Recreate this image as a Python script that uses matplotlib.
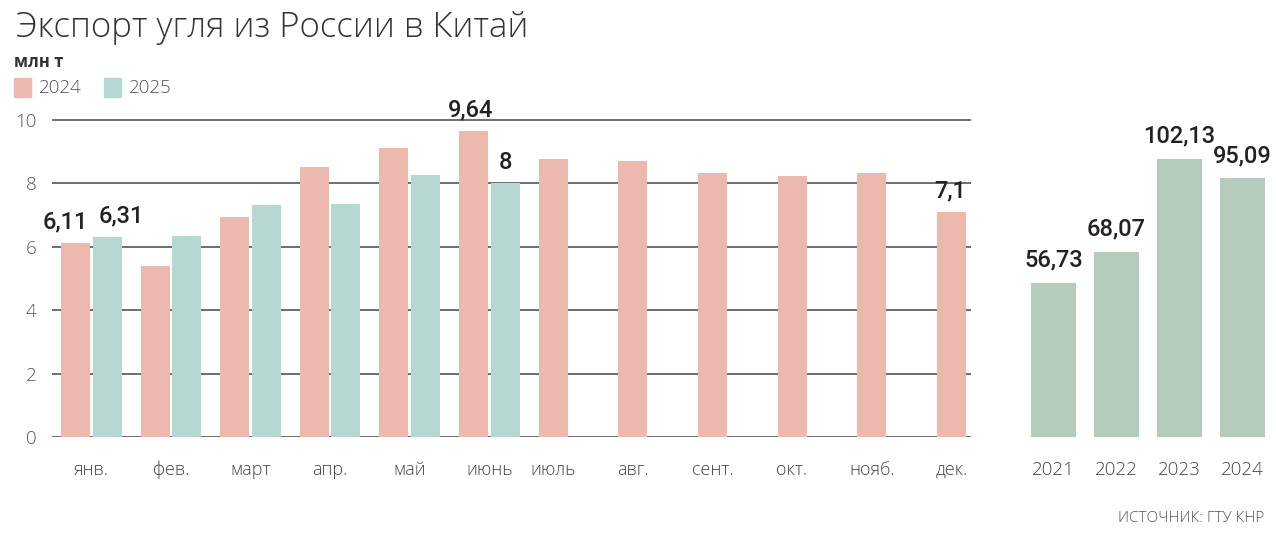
import matplotlib.pyplot as plt
import numpy as np

months = ['янв.', 'фев.', 'март', 'апр.', 'май', 'июнь',
          'июль', 'авг.', 'сент.', 'окт.', 'нояб.', 'дек.']
exp_2024 = [6.11, 5.39, 6.93, 8.50, 9.10, 9.64, 8.76, 8.71, 8.34, 8.24, 8.34, 7.1]
exp_2025 = [6.31, 6.35, 7.33, 7.36, 8.25, 8.0]
years = ['2021', '2022', '2023', '2024']
yearly = [56.73, 68.07, 102.13, 95.09]

c24 = '#EDB8AE'
c25 = '#B5D9D2'
cyear = '#B5CCBD'
grid_c = '#555555'
text_c = '#333333'
light = 'Open Sans'
num_font = 'Roboto'


def fmt(v):
    return f'{v:g}'.replace('.', ',')


fig = plt.figure(figsize=(12.76, 5.38), dpi=100)

# monthly panel
ax = fig.add_axes([52 / 1276, 1 - 437 / 538, 919 / 1276, 333 / 538])
x = np.arange(len(months))
w = 0.364
off = 0.198
ax.bar(x - off, exp_2024, w, color=c24, zorder=3)
x25 = np.arange(len(exp_2025))
ax.bar(x25 + off, exp_2025, w, color=c25, zorder=3)

ax.set_xlim(-0.493, 11.05)
ax.set_ylim(0, 10.5)
ax.set_yticks(range(0, 11, 2))
ax.yaxis.grid(True, color=grid_c, linewidth=1.2, zorder=0)
for s in ax.spines.values():
    s.set_visible(False)
ax.tick_params(axis='y', length=0, pad=11, labelsize=13.5, labelcolor='#555555')
for t in ax.get_yticklabels():
    t.set_fontfamily(light)
    t.set_fontweight('light')

# jan-jun labels sit under the pair, jul-dec under the single 2024 bar
tick_pos = [i if i < len(exp_2025) else i - off for i in x]
ax.set_xticks(tick_pos)
ax.set_xticklabels(months, fontfamily=light, fontweight='light',
                   fontsize=13, color='#444444')
ax.tick_params(axis='x', length=0, pad=17)

# value labels: (series, index, x shift in points)
marks = [(exp_2024, 0, -7.5), (exp_2025, 0, 10), (exp_2024, 5, -2),
         (exp_2025, 5, 0), (exp_2024, 11, -1)]
for series, i, dx in marks:
    xc = i - off if series is exp_2024 else i + off
    ax.annotate(fmt(series[i]), (xc, series[i]), xytext=(dx, 7),
                textcoords='offset points', ha='center', va='bottom',
                fontsize=17, fontfamily=num_font, fontweight='medium',
                color='#222222', annotation_clip=False)

# yearly panel
ax2 = fig.add_axes([1020 / 1276, 1 - 437 / 538, 250 / 1276, 333 / 538])
xy = np.arange(len(years))
ax2.bar(xy, yearly, 0.714, color=cyear)
ax2.set_xlim(-0.532, 3.437)
ax2.set_ylim(0, 122.3)
ax2.axis('off')
for i, v in enumerate(yearly):
    ax2.annotate(fmt(v), (i, v), xytext=(0, 8), textcoords='offset points',
                 ha='center', va='bottom', fontsize=17, fontfamily=num_font,
                 fontweight='medium', color='#222222', annotation_clip=False)
    ax2.annotate(years[i], (i, 0), xytext=(0, -24), textcoords='offset points',
                 ha='center', va='center', fontsize=13.5, fontfamily=light,
                 fontweight='light', color='#444444', annotation_clip=False)

# title, units, legend, source
fig.text(16 / 1276, 1 - 28 / 538, 'Экспорт угля из России в Китай', ha='left',
         va='center', fontsize=25, fontfamily=light, fontweight='light', color=text_c)
fig.text(14 / 1276, 1 - 62 / 538, 'млн т', ha='left', va='center', fontsize=12,
         fontfamily=light, fontweight='bold', color=text_c)
for xs, col, lab in [(14, c24, '2024'), (104, c25, '2025')]:
    fig.patches.append(plt.Rectangle((xs / 1276, 1 - 97 / 538), 17 / 1276, 19 / 538,
                                     transform=fig.transFigure, color=col))
    fig.text((xs + 25) / 1276, 1 - 88 / 538, lab, ha='left', va='center',
             fontsize=13.5, fontfamily=light, fontweight='light', color='#555555')
fig.text(1264 / 1276, 1 - 518 / 538, 'ИСТОЧНИК: ГТУ КНР', ha='right', va='center',
         fontsize=11, fontfamily=light, fontweight='light', color='#555555')

fig.savefig('out.png', dpi=100, facecolor='white')
